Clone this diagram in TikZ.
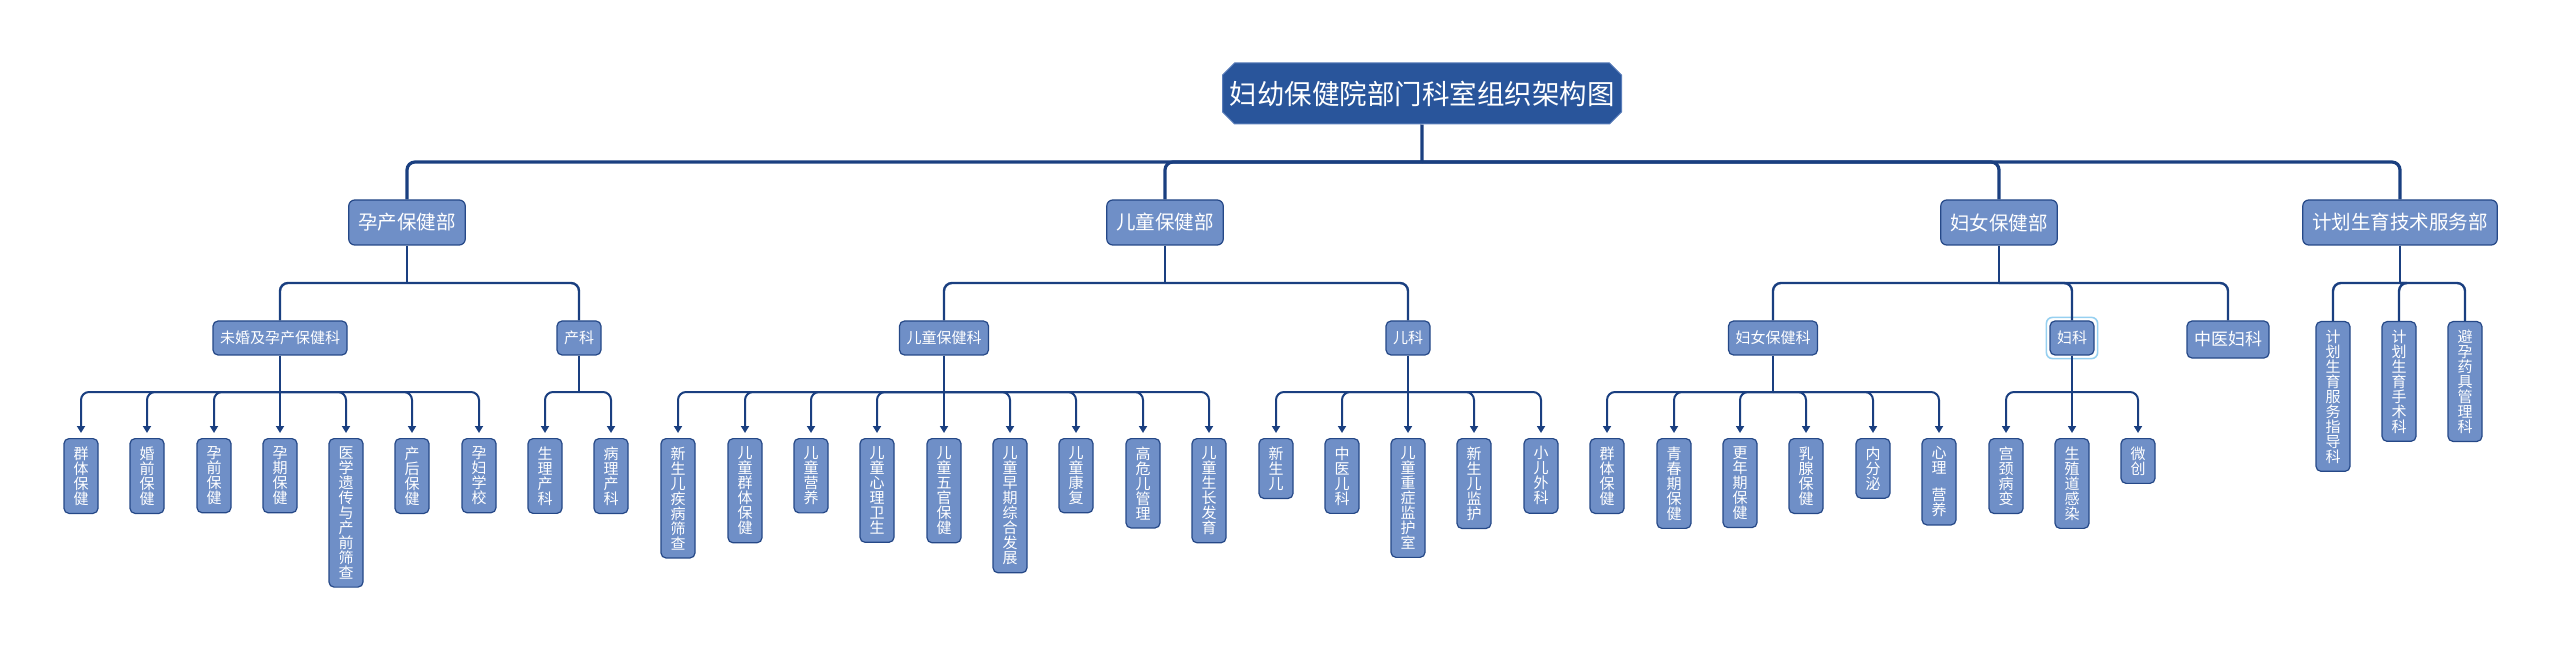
\documentclass[tikz,border=0pt]{standalone}
\usepackage{fontspec}
\setmainfont{Noto Sans CJK SC}
\usetikzlibrary{arrows.meta,shapes.misc}
\XeTeXlinebreaklocale "zh"

\begin{document}
\begin{tikzpicture}[
        x=1pt, y=-1pt,
        title_box/.style={chamfered rectangle, chamfered rectangle xsep=6pt, chamfered rectangle ysep=6pt, fill=titleblue, draw=rimlight, line width=1pt, text=white, minimum width=399pt, minimum height=61pt, inner sep=0pt, font=\fontsize{27.5}{30}\selectfont},
        dept_box/.style={rectangle, rounded corners=6pt, fill=boxblue, draw=rimblue, line width=1.2pt, text=white, minimum height=45pt, inner xsep=9.5pt, font=\fontsize{19.5}{22}\selectfont},
        sub_box/.style={rectangle, rounded corners=5pt, fill=boxblue, draw=rimblue, line width=1.2pt, text=white, minimum height=34pt, inner xsep=7pt, font=\fontsize{15}{17}\selectfont},
        leaf_box/.style={rectangle, rounded corners=5pt, fill=boxblue, draw=rimblue, line width=1.2pt, text=white, anchor=north, text width=16pt, align=center, inner xsep=9pt, inner ysep=8pt, font=\fontsize{15}{15}\selectfont},
        trunk/.style={draw=linenavy, line width=3.2pt, rounded corners=8pt},
        branch/.style={draw=linenavy, line width=2.4pt, rounded corners=8pt},
        twig/.style={draw=linenavy, line width=2pt, rounded corners=8pt, -{Triangle[length=7pt,width=8pt]}, shorten >=5pt},
        glow/.style={draw=glowblue, line width=1.6pt, rounded corners=6pt}
    ]

        \definecolor{titleblue}{RGB}{41, 85, 155}
        \definecolor{boxblue}{RGB}{111, 143, 199}
        \definecolor{linenavy}{RGB}{26, 63, 128}
        \definecolor{rimblue}{RGB}{37, 72, 135}
        \definecolor{rimlight}{RGB}{90, 125, 185}
        \definecolor{glowblue}{RGB}{150, 208, 240}

        \useasboundingbox (0,0) rectangle (2560,652);

        % title and departments
        \node[title_box] (top) at (1422,93.5) {妇幼保健院部门科室组织架构图};

        \node[dept_box] (d1) at (407,222.5) {孕产保健部};
        \node[dept_box] (d2) at (1165,222.5) {儿童保健部};
        \node[dept_box] (d3) at (1999,222.5) {妇女保健部};
        \node[dept_box] (d4) at (2400,222.5) {计划生育技术服务部};

        % sections
        \node[sub_box] (s1) at (280,338) {未婚及孕产保健科};
        \node[sub_box] (s2) at (579,338) {产科};
        \node[sub_box] (s3) at (944,338) {儿童保健科};
        \node[sub_box] (s4) at (1408,338) {儿科};
        \node[sub_box] (s5) at (1773,338) {妇女保健科};
        \node[sub_box] (s6) at (2072,338) {妇科};
        \node[sub_box, minimum height=37pt, font=\fontsize{17}{19}\selectfont] (s7) at (2228,339.5) {中医妇科};
        \draw[glow] ([shift={(-3pt,3pt)}]s6.north west) rectangle ([shift={(3pt,-3pt)}]s6.south east);

        % leaves
        \node[leaf_box] (a1) at (81,438) {群体保健};
        \node[leaf_box] (a2) at (147,438) {婚前保健};
        \node[leaf_box] (a3) at (214,438) {孕前保健};
        \node[leaf_box] (a4) at (280,438) {孕期保健};
        \node[leaf_box] (a5) at (346,438) {医学遗传与产前筛查};
        \node[leaf_box] (a6) at (412,438) {产后保健};
        \node[leaf_box] (a7) at (479,438) {孕妇学校};

        \node[leaf_box] (b1) at (545,438) {生理产科};
        \node[leaf_box] (b2) at (611,438) {病理产科};

        \node[leaf_box] (c1) at (678,438) {新生儿疾病筛查};
        \node[leaf_box] (c2) at (745,438) {儿童群体保健};
        \node[leaf_box] (c3) at (811,438) {儿童营养};
        \node[leaf_box] (c4) at (877,438) {儿童心理卫生};
        \node[leaf_box] (c5) at (944,438) {儿童五官保健};
        \node[leaf_box] (c6) at (1010,438) {儿童早期综合发展};
        \node[leaf_box] (c7) at (1076,438) {儿童康复};
        \node[leaf_box] (c8) at (1143,438) {高危儿管理};
        \node[leaf_box] (c9) at (1209,438) {儿童生长发育};

        \node[leaf_box] (e1) at (1276,438) {新生儿};
        \node[leaf_box] (e2) at (1342,438) {中医儿科};
        \node[leaf_box] (e3) at (1408,438) {儿童重症监护室};
        \node[leaf_box] (e4) at (1474,438) {新生儿监护};
        \node[leaf_box] (e5) at (1541,438) {小儿外科};

        \node[leaf_box] (f1) at (1607,438) {群体保健};
        \node[leaf_box] (f2) at (1674,438) {青春期保健};
        \node[leaf_box] (f3) at (1740,438) {更年期保健};
        \node[leaf_box] (f4) at (1806,438) {乳腺保健};
        \node[leaf_box] (f5) at (1873,438) {内分泌};
        \node[leaf_box] (f6) at (1939,438) {心理\\[12pt]营养};

        \node[leaf_box] (g1) at (2006,438) {宫颈病变};
        \node[leaf_box] (g2) at (2072,438) {生殖道感染};
        \node[leaf_box] (g3) at (2138,438) {微创};

        \node[leaf_box] (h1) at (2333,321) {计划生育服务指导科};
        \node[leaf_box] (h2) at (2399,321) {计划生育手术科};
        \node[leaf_box] (h3) at (2465,321) {避孕药具管理科};

        % junctions
        \coordinate (tj) at (1422,162);
        \coordinate (d1j) at (407,283);
        \coordinate (d2j) at (1165,283);
        \coordinate (d3j) at (1999,283);
        \coordinate (d4j) at (2400,283);
        \coordinate (s1j) at (280,392);
        \coordinate (s2j) at (579,392);
        \coordinate (s3j) at (944,392);
        \coordinate (s4j) at (1408,392);
        \coordinate (s5j) at (1773,392);
        \coordinate (s6j) at (2072,392);

        % connectors
        \draw[trunk] (top) -- (tj);
        \draw[trunk] (tj) -| (d1.north);
        \draw[trunk] (tj) -| (d2.north);
        \draw[trunk] (tj) -| (d3.north);
        \draw[trunk] (tj) -| (d4.north);

        \draw[branch] (d1) -- (d1j);
        \draw[branch] (d1j) -| (s1.north);
        \draw[branch] (d1j) -| (s2.north);
        \draw[branch] (d2) -- (d2j);
        \draw[branch] (d2j) -| (s3.north);
        \draw[branch] (d2j) -| (s4.north);
        \draw[branch] (d3) -- (d3j);
        \draw[branch] (d3j) -| (s5.north);
        \draw[branch] (d3j) -| (s6.north);
        \draw[branch] (d3j) -| (s7.north);
        \draw[branch] (d4) -- (d4j);
        \draw[branch] (d4j) -| (h1.north);
        \draw[branch] (d4j) -| (h2.north);
        \draw[branch] (d4j) -| (h3.north);

        \draw[branch] (s1) -- (s1j);
        \draw[twig] (s1j) -| (a1.north);
        \draw[twig] (s1j) -| (a2.north);
        \draw[twig] (s1j) -| (a3.north);
        \draw[twig] (s1j) -| (a4.north);
        \draw[twig] (s1j) -| (a5.north);
        \draw[twig] (s1j) -| (a6.north);
        \draw[twig] (s1j) -| (a7.north);

        \draw[branch] (s2) -- (s2j);
        \draw[twig] (s2j) -| (b1.north);
        \draw[twig] (s2j) -| (b2.north);

        \draw[branch] (s3) -- (s3j);
        \draw[twig] (s3j) -| (c1.north);
        \draw[twig] (s3j) -| (c2.north);
        \draw[twig] (s3j) -| (c3.north);
        \draw[twig] (s3j) -| (c4.north);
        \draw[twig] (s3j) -| (c5.north);
        \draw[twig] (s3j) -| (c6.north);
        \draw[twig] (s3j) -| (c7.north);
        \draw[twig] (s3j) -| (c8.north);
        \draw[twig] (s3j) -| (c9.north);

        \draw[branch] (s4) -- (s4j);
        \draw[twig] (s4j) -| (e1.north);
        \draw[twig] (s4j) -| (e2.north);
        \draw[twig] (s4j) -| (e3.north);
        \draw[twig] (s4j) -| (e4.north);
        \draw[twig] (s4j) -| (e5.north);

        \draw[branch] (s5) -- (s5j);
        \draw[twig] (s5j) -| (f1.north);
        \draw[twig] (s5j) -| (f2.north);
        \draw[twig] (s5j) -| (f3.north);
        \draw[twig] (s5j) -| (f4.north);
        \draw[twig] (s5j) -| (f5.north);
        \draw[twig] (s5j) -| (f6.north);

        \draw[branch] (s6) -- (s6j);
        \draw[twig] (s6j) -| (g1.north);
        \draw[twig] (s6j) -| (g2.north);
        \draw[twig] (s6j) -| (g3.north);
    \end{tikzpicture}
\end{document}
